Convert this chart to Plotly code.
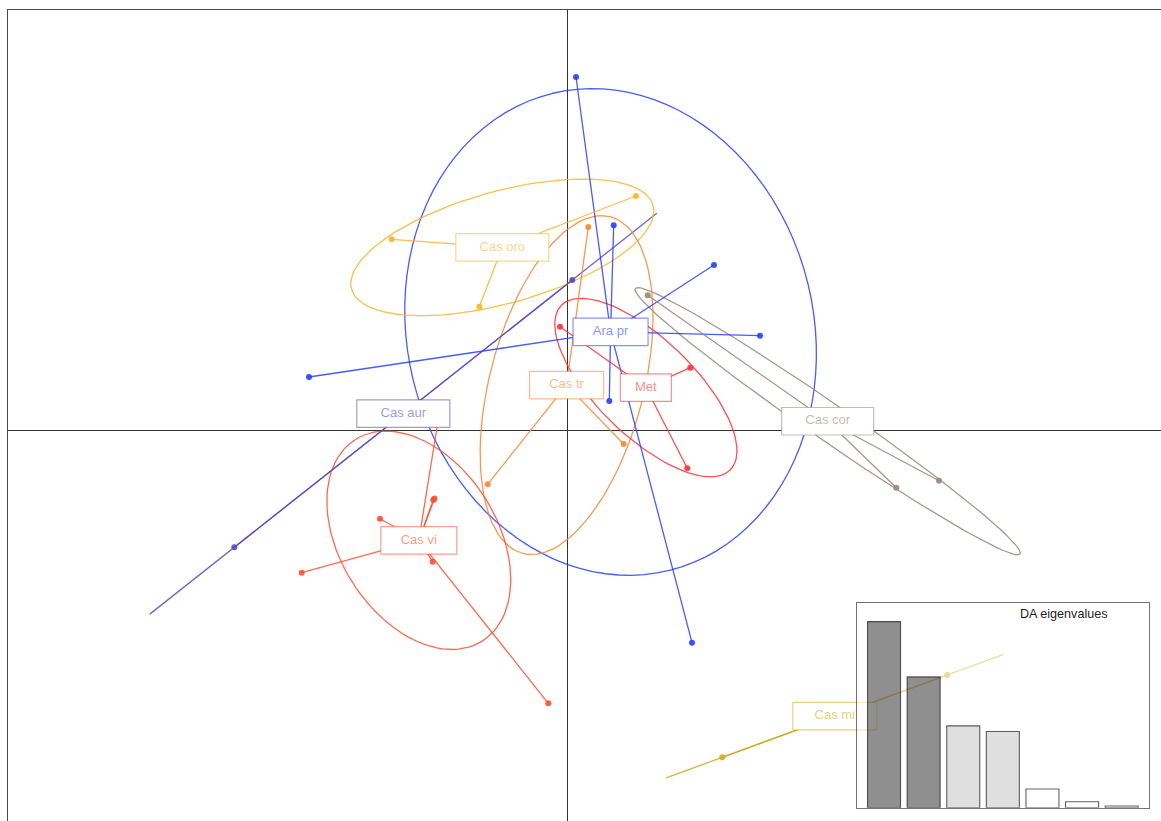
import numpy as np
import plotly.graph_objects as go

# ---- data -----------------------------------------------------------------
groups = ["Ara pr", "Cas aur", "Cas cor", "Cas mi", "Cas oro", "Cas tr", "Cas vi", "Met"]

# group membership of each individual
grp = (["Ara pr"] * 7 + ["Cas aur"] * 2 + ["Cas cor"] * 3 + ["Cas mi"] * 2
       + ["Cas oro"] * 3 + ["Cas tr"] * 3 + ["Cas vi"] * 9 + ["Met"] * 3)

# discriminant function scores (axis 1)
ld1 = [0.087, 0.464, 1.467, 1.927, -2.583, 0.420, 1.247,
       0.050, -3.330,
       0.804, 3.290, 3.717,
       1.550, 3.800,
       -1.756, 0.687, -0.880,
       0.210, -0.796, 0.564,
       -1.873, -2.656, -1.340, -1.328, -1.346, -0.190, -1.283, -1.723, -1.626,
       -0.073, 1.230, 1.200]

# discriminant function scores (axis 2)
ld2 = [3.533, 2.050, 1.653, 0.946, 0.533, 0.293, -2.124,
       1.503, -1.170,
       1.350, -0.574, -0.504,
       -3.270, -2.447,
       1.910, 2.343, 1.236,
       2.033, -0.540, -0.137,
       -0.884, -1.424, -0.697, -0.682, -1.314, -2.730, 0.153, -1.177, -1.145,
       1.036, 0.626, -0.380]

# eigenvalues of the discriminant analysis
da_eig = [93.2, 65.5, 41.0, 38.2, 9.35, 3.0, 0.85]

# ---- style ----------------------------------------------------------------
base_col = {
    "Ara pr": (40, 62, 255),
    "Cas aur": (88, 74, 188),
    "Cas cor": (150, 134, 124),
    "Cas mi": (212, 168, 28),
    "Cas oro": (250, 180, 42),
    "Cas tr": (246, 134, 52),
    "Cas vi": (255, 78, 48),
    "Met": (255, 48, 54),
}
box_w_px = {"Ara pr": 75, "Cas aur": 93, "Cas cor": 92, "Cas mi": 84,
            "Cas oro": 93, "Cas tr": 74, "Cas vi": 76, "Met": 51}
box_h_px = 27.5
eig_fill = ["rgba(0,0,0,0.44)"] * 2 + ["rgba(185,185,185,0.45)"] * 2 + ["rgba(255,255,255,0.45)"] * 3
FONT = "Liberation Sans, Arial, sans-serif"


def rgba(c, a):
    return "rgba(%d,%d,%d,%.2f)" % (c[0], c[1], c[2], a)


def cov_ellipse(x, y, coef=1.5, n=100):
    mx, my = x.mean(), y.mean()
    vx = ((x - mx) ** 2).mean()
    vy = ((y - my) ** 2).mean()
    cxy = ((x - mx) * (y - my)).mean()
    vals, vecs = np.linalg.eigh(np.array([[vx, cxy], [cxy, vy]]))
    vals = np.clip(vals, 0, None)
    t = np.linspace(0, 2 * np.pi, n + 1)
    pts = coef * (np.sqrt(vals[1]) * np.outer(np.cos(t), vecs[:, 1])
                  + np.sqrt(vals[0]) * np.outer(np.sin(t), vecs[:, 0]))
    return mx + pts[:, 0], my + pts[:, 1]


x_range = [-5.593, 5.937]
y_range = [-3.907, 4.203]
W, H = 1161, 821
ML, MT = 8, 10
px_per_unit = (W - ML) / (x_range[1] - x_range[0])

g_arr = np.array(grp)
X = np.array(ld1)
Y = np.array(ld2)

fig = go.Figure()

# inertia ellipses
for g in groups:
    m = g_arr == g
    ex, ey = cov_ellipse(X[m], Y[m])
    fig.add_trace(go.Scatter(x=ex, y=ey, mode="lines", hoverinfo="skip",
                             line=dict(color=rgba(base_col[g], 0.85), width=1.3)))

# stars: centroid to each individual
for g in groups:
    m = g_arr == g
    cx, cy = X[m].mean(), Y[m].mean()
    sx, sy = [], []
    for xi, yi in zip(X[m], Y[m]):
        sx += [cx, xi, None]
        sy += [cy, yi, None]
    fig.add_trace(go.Scatter(x=sx, y=sy, mode="lines", hoverinfo="skip",
                             line=dict(color=rgba(base_col[g], 0.85), width=1.3)))

# individuals
for g in groups:
    m = g_arr == g
    fig.add_trace(go.Scatter(x=X[m], y=Y[m], mode="markers", name=g,
                             marker=dict(color=rgba(base_col[g], 0.9), size=6)))

# group labels in boxes at the centroids
hw_unit = 0.5 / px_per_unit
for g in groups:
    m = g_arr == g
    cx, cy = X[m].mean(), Y[m].mean()
    hw = box_w_px[g] * hw_unit
    hh = box_h_px * hw_unit
    fig.add_trace(go.Scatter(
        x=[cx - hw, cx + hw, cx + hw, cx - hw, cx - hw],
        y=[cy - hh, cy - hh, cy + hh, cy + hh, cy - hh],
        mode="lines", fill="toself", fillcolor="white", hoverinfo="skip",
        line=dict(color=rgba(base_col[g], 0.55), width=1.2)))
    fig.add_trace(go.Scatter(
        x=[cx], y=[cy], mode="text", text=[g], textposition="middle center",
        hoverinfo="skip",
        textfont=dict(family=FONT, size=13, color=rgba(base_col[g], 0.58))))

# eigenvalue inset
n_eig = len(da_eig)
bar_pos = [0.7 + 1.2 * i for i in range(n_eig)]
fig.add_trace(go.Bar(x=bar_pos, y=da_eig, width=1.0, xaxis="x2", yaxis="y2",
                     marker=dict(color=eig_fill,
                                 line=dict(color="rgba(0,0,0,0.62)", width=1.1)),
                     hoverinfo="skip"))

x2_range = [0.2 - 0.328, 0.2 + 1.2 * (n_eig - 1) + 1.0 + 0.328]
y2_range = [0, max(da_eig) * 1.1]

# translucent background of the inset
fig.add_shape(type="rect", xref="x2", yref="y2", layer="below",
              x0=x2_range[0], x1=x2_range[1], y0=y2_range[0], y1=y2_range[1],
              fillcolor="rgba(255,255,255,0.52)", line=dict(width=0))

inset_x = [(856.7 - ML) / (W - ML), (1149 - ML) / (W - ML)]
inset_y = [(H - 807.7) / (H - MT), (H - 603) / (H - MT)]

fig.add_annotation(text="DA eigenvalues", xref="paper", yref="paper",
                   x=(1064 - ML) / (W - ML), y=(H - 614.3) / (H - MT),
                   xanchor="center", yanchor="middle", showarrow=False,
                   font=dict(family=FONT, size=12.6, color="#1e1e1e"))

axis_common = dict(showgrid=False, showticklabels=False, ticks="",
                   showline=True, mirror=True, linecolor="#4a4a4a", linewidth=1.2)

fig.update_layout(
    width=W, height=H,
    margin=dict(l=ML, r=0, t=MT, b=0, pad=0),
    paper_bgcolor="white", plot_bgcolor="rgba(0,0,0,0)",
    showlegend=False,
    xaxis=dict(range=x_range, zeroline=True, zerolinecolor="#333333",
               zerolinewidth=1, **axis_common),
    yaxis=dict(range=y_range, zeroline=True, zerolinecolor="#333333",
               zerolinewidth=1, **axis_common),
    xaxis2=dict(domain=inset_x, anchor="y2", range=x2_range, zeroline=False,
                showgrid=False, showticklabels=False, ticks="", showline=True,
                mirror=True, linecolor="rgba(0,0,0,0.55)", linewidth=1.2),
    yaxis2=dict(domain=inset_y, anchor="x2", range=y2_range, zeroline=False,
                showgrid=False, showticklabels=False, ticks="", showline=True,
                mirror=True, linecolor="rgba(0,0,0,0.55)", linewidth=1.2),
)

fig.write_html("out.html")
